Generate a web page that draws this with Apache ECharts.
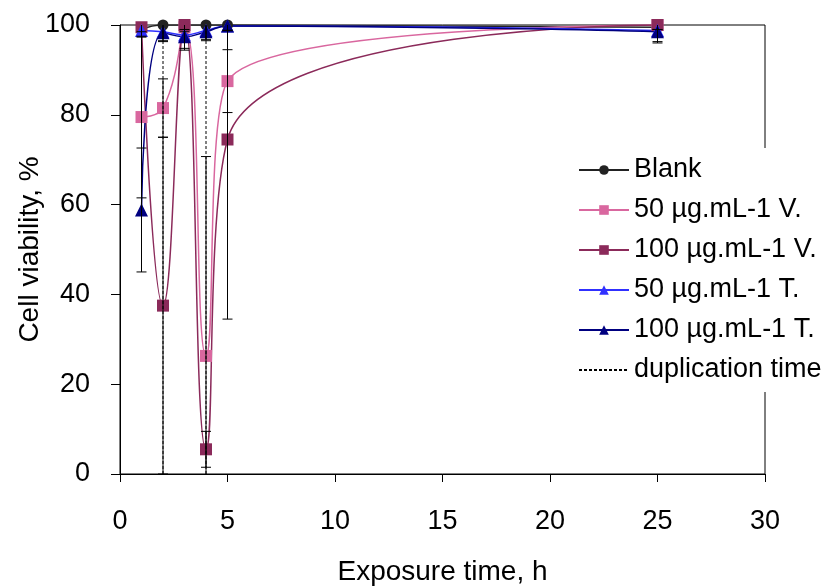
<!DOCTYPE html>
<html>
<head>
<meta charset="utf-8">
<script src="https://cdn.jsdelivr.net/npm/echarts@6/dist/echarts.min.js"></script>
<style>html,body{margin:0;padding:0;background:#fff}#c{width:834px;height:587px}</style>
</head>
<body>
<div id="c"></div>
<script>
const hours = [1, 2, 3, 4, 5, 25];
const blank = [99, 100, 100, 100, 100, 99.5];
const v50 = [79.5, 81.5, 99.5, 26.3, 87.5, 100];
const v100 = [99.5, 37.5, 100, 5.5, 74.5, 100];
const t50 = [98.8, 98.5, 97.8, 98.8, 99.8, 98.8];
const t100 = [58.8, 98.3, 97.4, 98.5, 99.8, 98.5];
const v50Err = [18, 6.5, 1, 44.4, 7, 1];
const v100Err = [1, 37.5, 1, 4, 40, 1];
const t50Err = [1.5, 2, 3, 2, 1, 2.5];
const t100Err = [13.8, 2, 3, 2, 1, 2.5];
const dupTimes = [2, 4];
const xTicks = [0, 5, 10, 15, 20, 25, 30];
const yTicks = [0, 20, 40, 60, 80, 100];

const FONT = 'Liberation Sans';
const pts = arr => hours.map((h, i) => [h, arr[i]]);
const errData = (vals, errs) => hours.map((h, i) => [h, vals[i] - errs[i], vals[i] + errs[i]]);

function errSeries(vals, errs) {
  return {
    type: 'custom',
    data: errData(vals, errs),
    encode: { x: 0, y: [1, 2] },
    clip: true,
    z: 4,
    silent: true,
    renderItem: function (params, api) {
      const x = api.value(0), lo = api.value(1), hi = api.value(2);
      const a = api.coord([x, lo]), b = api.coord([x, hi]);
      const w = 5;
      const st = { stroke: '#000', lineWidth: 1 };
      return {
        type: 'group',
        children: [
          { type: 'line', shape: { x1: a[0], y1: a[1], x2: b[0], y2: b[1] }, style: st },
          { type: 'line', shape: { x1: a[0] - w, y1: a[1], x2: a[0] + w, y2: a[1] }, style: st },
          { type: 'line', shape: { x1: b[0] - w, y1: b[1], x2: b[0] + w, y2: b[1] }, style: st }
        ]
      };
    }
  };
}

function lineSeries(name, arr, color, symbol, size) {
  return {
    name: name,
    type: 'line',
    data: pts(arr),
    smooth: 0.5,
    symbol: symbol,
    symbolSize: size,
    itemStyle: { color: color },
    lineStyle: { color: color, width: 1.5 },
    z: 3
  };
}

const dupData = [];
dupTimes.forEach((t, i) => {
  if (i > 0) dupData.push([t, '-']);
  dupData.push([t, yTicks[0]]);
  dupData.push([t, yTicks[yTicks.length - 1]]);
});

const chart = echarts.init(document.getElementById('c'), null, { renderer: 'canvas' });
chart.setOption({
  animation: false,
  backgroundColor: '#fff',
  grid: { left: 120, right: 69, top: 25, bottom: 113, containLabel: false, outerBoundsMode: 'none',
    show: true, borderColor: '#000', borderWidth: 1, backgroundColor: 'transparent' },
  xAxis: {
    type: 'value', min: xTicks[0], max: xTicks[xTicks.length - 1], interval: 5,
    name: 'Exposure time, h', nameLocation: 'middle', nameGap: 84, nameMoveOverlap: false,
    nameTextStyle: { fontSize: 28, fontFamily: FONT, color: '#000' },
    axisLine: { show: true, onZero: false, lineStyle: { color: '#000', width: 1 } },
    axisTick: { show: true, inside: false, length: 8, lineStyle: { color: '#000' } },
    axisLabel: { fontSize: 27, fontFamily: FONT, color: '#000', margin: 34 },
    splitLine: { show: false }
  },
  yAxis: {
    type: 'value', min: yTicks[0], max: yTicks[yTicks.length - 1], interval: 20,
    name: 'Cell viability, %', nameLocation: 'middle', nameGap: 76, nameMoveOverlap: false,
    nameTextStyle: { fontSize: 28, fontFamily: FONT, color: '#000' },
    axisLine: { show: true, onZero: false, lineStyle: { color: '#000', width: 1 } },
    axisTick: { show: true, inside: false, length: 9, lineStyle: { color: '#000' } },
    axisLabel: { fontSize: 27, fontFamily: FONT, color: '#000', margin: 30 },
    splitLine: { show: false }
  },
  legend: {
    orient: 'vertical', left: 570, top: 148,
    padding: [8, 4, 8, 8],
    backgroundColor: '#fff',
    itemGap: 12, itemWidth: 50, itemHeight: 12,
    z: 10,
    textStyle: { fontSize: 27, fontFamily: FONT, color: '#000', lineHeight: 28 },
    data: ['Blank', '50 µg.mL-1 V.', '100 µg.mL-1 V.', '50 µg.mL-1 T.', '100 µg.mL-1 T.',
      { name: 'duplication time', itemStyle: { opacity: 0 } }]
  },
  series: [
    lineSeries('Blank', blank, '#222222', 'circle', 11),
    lineSeries('50 µg.mL-1 V.', v50, '#d9679f', 'rect', 12),
    lineSeries('100 µg.mL-1 V.', v100, '#8b2a5a', 'rect', 12),
    lineSeries('50 µg.mL-1 T.', t50, '#3030ff', 'triangle', 13),
    lineSeries('100 µg.mL-1 T.', t100, '#000080', 'triangle', 13),
    {
      name: 'duplication time', type: 'line', data: dupData, symbol: 'none',
      itemStyle: { color: '#000' },
      lineStyle: { color: '#000', width: 1, type: [3, 2] }, z: 5
    },
    errSeries(v50, v50Err),
    errSeries(v100, v100Err),
    errSeries(t50, t50Err),
    errSeries(t100, t100Err)
  ]
});
</script>
</body>
</html>
